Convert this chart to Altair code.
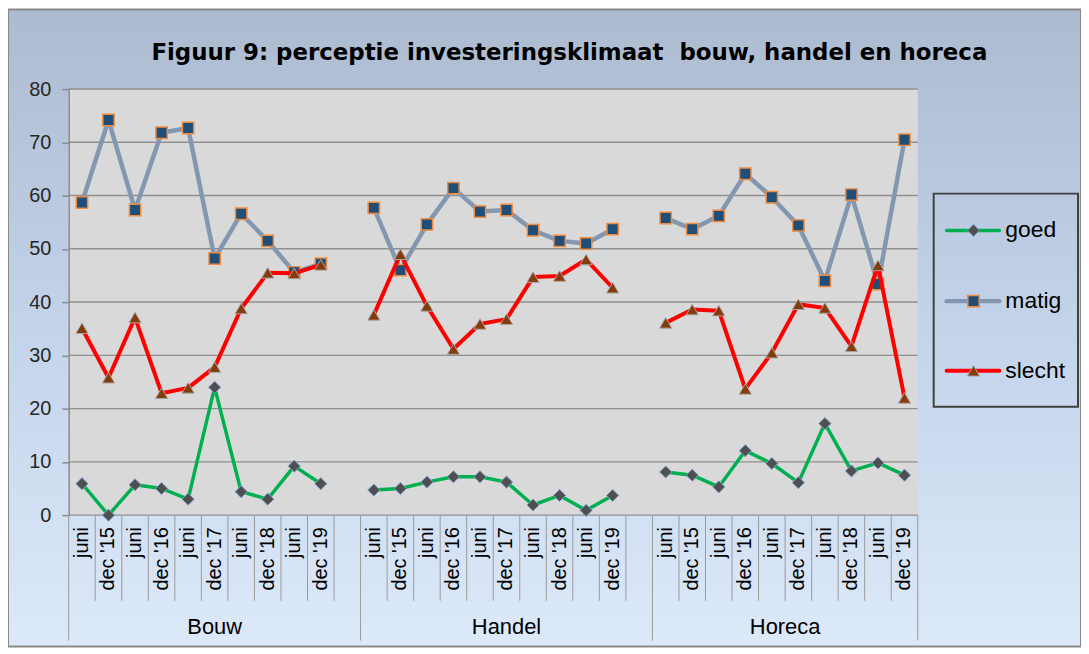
import altair as alt
import pandas as pd

# ---------------- data ----------------
groups = ["Bouw", "Handel", "Horeca"]
periods = ["juni", "dec '15", "juni", "dec '16", "juni", "dec '17",
           "juni", "dec '18", "juni", "dec '19"]
series = ["goed", "matig", "slecht"]

goed_bouw = [5.9, 0.0, 5.7, 5.0, 3.0, 24.0, 4.4, 3.0, 9.2, 5.9]
matig_bouw = [58.7, 74.2, 57.3, 71.8, 72.7, 48.2, 56.6, 51.5, 45.6, 47.2]
slecht_bouw = [35.1, 25.8, 37.1, 22.9, 23.9, 27.8, 38.8, 45.5, 45.4, 47.0]

goed_handel = [4.7, 5.0, 6.2, 7.2, 7.2, 6.2, 1.9, 3.7, 0.9, 3.7]
matig_handel = [57.7, 46.0, 54.6, 61.4, 57.0, 57.3, 53.5, 51.5, 51.0, 53.7]
slecht_handel = [37.6, 49.0, 39.3, 31.2, 35.9, 36.8, 44.7, 44.9, 48.0, 42.7]

goed_horeca = [8.1, 7.5, 5.3, 12.1, 9.7, 6.1, 17.2, 8.3, 9.8, 7.5]
matig_horeca = [55.8, 53.7, 56.2, 64.1, 59.7, 54.4, 44.0, 60.2, 43.4, 70.5]
slecht_horeca = [36.1, 38.6, 38.4, 23.7, 30.5, 39.6, 38.9, 31.7, 46.9, 22.0]

y_ticks = [0, 10, 20, 30, 40, 50, 60, 70, 80]
title_text = "Figuur 9: perceptie investeringsklimaat\u00a0 bouw, handel en horeca"

# ---------------- layout / style ----------------
W, H = 853, 428
PL, PT, PR, PB = 61, 80, 164, 132
FONT = "Liberation Sans"

line_color = {"goed": "#00b050", "matig": "#8497b0", "slecht": "#ff0000"}
line_width = {"goed": 3.5, "matig": 4.5, "slecht": 4}
marker = {
    "goed": dict(shape="diamond", fill="#4f4f4f", stroke="#7f9fcf", strokeWidth=1, size=150),
    "matig": dict(shape="square", fill="#1f4e79", stroke="#f08a3c", strokeWidth=1.5, size=130),
    "slecht": dict(shape="triangle-up", fill="#843c0c", stroke="#a6a6a6", strokeWidth=1, size=150),
}

# category slots: each group has 10 periods + 1 empty slot (last group none)
group_start = {"Bouw": 0, "Handel": 11, "Horeca": 22}
group_end = {"Bouw": 11, "Handel": 22, "Horeca": 32}
n_slots = 32

values = {
    ("goed", "Bouw"): goed_bouw, ("matig", "Bouw"): matig_bouw, ("slecht", "Bouw"): slecht_bouw,
    ("goed", "Handel"): goed_handel, ("matig", "Handel"): matig_handel, ("slecht", "Handel"): slecht_handel,
    ("goed", "Horeca"): goed_horeca, ("matig", "Horeca"): matig_horeca, ("slecht", "Horeca"): slecht_horeca,
}
rows = []
for (s, g), vals in values.items():
    for i, v in enumerate(vals):
        rows.append(dict(series=s, group=g, pos=group_start[g] + i + 0.5, value=v))
df = pd.DataFrame(rows)

label_df = pd.DataFrame([dict(pos=group_start[g] + i + 0.5, label=p)
                         for g in groups for i, p in enumerate(periods)])
group_df = pd.DataFrame(dict(group=groups,
                             pos=[(group_start[g] + group_end[g]) / 2 for g in groups]))
long_bounds = [0] + [group_end[g] for g in groups]
short_bounds = [b for b in range(1, n_slots) if b not in long_bounds]

xs = alt.Scale(domain=[0, n_slots], nice=False, zero=False)
ys = alt.Scale(domain=[0, 80], nice=False)
yaxis = alt.Axis(values=y_ticks, grid=False, title=None, zindex=1,
                 tickSize=7, tickColor="#8c8c8c", tickWidth=1.5,
                 domainColor="#8c8c8c", domainWidth=1.5,
                 labelFont=FONT, labelFontSize=20, labelColor="#262626",
                 labelPadding=11)
one = pd.DataFrame({"a": [0]})

layers = []

# chart background with gradient
grad = alt.LinearGradient(gradient="linear",
                          stops=[alt.GradientStop(color="#adbbd0", offset=0),
                                 alt.GradientStop(color="#c3d3ea", offset=0.5),
                                 alt.GradientStop(color="#dce9f9", offset=1)],
                          x1=0, x2=0, y1=0, y2=1)
layers.append(alt.Chart(one).mark_rect(fill=grad, stroke="#8a8a8a", strokeWidth=2).encode(
    x=alt.value(-PL), x2=alt.value(W + PR), y=alt.value(-PT), y2=alt.value(H + PB)))

# plot area
layers.append(alt.Chart(one).mark_rect(fill="#d9d9d9").encode(
    x=alt.value(0), x2=alt.value(W), y=alt.value(0), y2=alt.value(H)))

# gridlines (with y axis)
layers.append(alt.Chart(pd.DataFrame({"v": y_ticks})).mark_rule(color="#8f8f8f", strokeWidth=1.5).encode(
    y=alt.Y("v:Q", scale=ys, axis=yaxis), x=alt.value(0), x2=alt.value(W)))

# series
for s in series:
    sub = alt.Chart(df).transform_filter(alt.datum.series == s)
    layers.append(sub.mark_line(color=line_color[s], strokeWidth=line_width[s],
                                strokeJoin="round", strokeCap="round").encode(
        x=alt.X("pos:Q", scale=xs, axis=None),
        y=alt.Y("value:Q", scale=ys, axis=yaxis),
        detail="group:N"))
    m = marker[s]
    layers.append(sub.mark_point(filled=True, opacity=1, shape=m["shape"], fill=m["fill"],
                                 stroke=m["stroke"], strokeWidth=m["strokeWidth"], size=m["size"]).encode(
        x=alt.X("pos:Q", scale=xs, axis=None),
        y=alt.Y("value:Q", scale=ys, axis=yaxis)))

# category separators
layers.append(alt.Chart(pd.DataFrame({"b": short_bounds})).mark_rule(color="#9a9a9a", strokeWidth=1).encode(
    x=alt.X("b:Q", scale=xs, axis=None), y=alt.value(H), y2=alt.value(H + 86)))
layers.append(alt.Chart(pd.DataFrame({"b": long_bounds})).mark_rule(color="#9a9a9a", strokeWidth=1).encode(
    x=alt.X("b:Q", scale=xs, axis=None), y=alt.value(H), y2=alt.value(H + 126)))

# category labels
layers.append(alt.Chart(label_df).mark_text(angle=270, align="right", baseline="middle",
                                            font=FONT, fontSize=20, color="#000000").encode(
    x=alt.X("pos:Q", scale=xs, axis=None), y=alt.value(H + 12), text="label:N"))

# group labels
layers.append(alt.Chart(group_df).mark_text(align="center", baseline="middle",
                                            font=FONT, fontSize=22, color="#000000").encode(
    x=alt.X("pos:Q", scale=xs, axis=None), y=alt.value(H + 112), text="group:N"))

# title
layers.append(alt.Chart(one).mark_text(text=title_text, align="center", baseline="middle",
                                       font="DejaVu Sans", fontSize=23, fontWeight="bold",
                                       color="#000000").encode(
    x=alt.value(503), y=alt.value(-36)))

# legend
layers.append(alt.Chart(one).mark_rect(fillOpacity=0, stroke="#404040", strokeWidth=2).encode(
    x=alt.value(869), x2=alt.value(1014), y=alt.value(105), y2=alt.value(319)))
for s, yc in zip(series, [142, 213, 283]):
    layers.append(alt.Chart(one).mark_rule(color=line_color[s], strokeWidth=line_width[s],
                                           strokeCap="round").encode(
        x=alt.value(882), x2=alt.value(935), y=alt.value(yc)))
    m = marker[s]
    layers.append(alt.Chart(one).mark_point(filled=True, opacity=1, shape=m["shape"], fill=m["fill"],
                                            stroke=m["stroke"], strokeWidth=m["strokeWidth"],
                                            size=m["size"]).encode(
        x=alt.value(909), y=alt.value(yc)))
    layers.append(alt.Chart(one).mark_text(text=s, align="left", baseline="middle",
                                           font=FONT, fontSize=23, color="#000000").encode(
        x=alt.value(941), y=alt.value(yc)))

chart = alt.layer(*layers).properties(
    width=W, height=H,
    autosize=alt.AutoSizeParams(type="none"),
    padding={"left": PL, "top": PT, "right": PR, "bottom": PB},
).configure_view(strokeWidth=0).configure(background="white")

chart.save("out.html", embed_options={"renderer": "svg", "actions": False})
